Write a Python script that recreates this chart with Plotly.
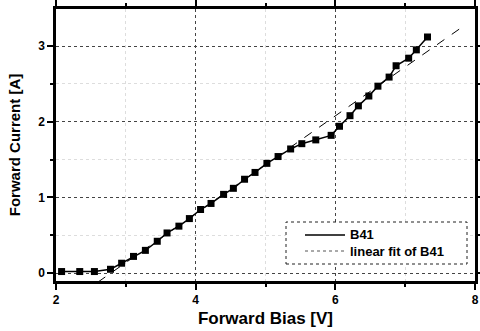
import plotly.graph_objects as go

bias_v = [2.08, 2.34, 2.55, 2.78, 2.94, 3.11, 3.28, 3.45, 3.59, 3.76, 3.91, 4.07, 4.22,
          4.40, 4.54, 4.70, 4.85, 5.02, 5.18, 5.36, 5.52, 5.72, 5.94, 6.06, 6.21, 6.33,
          6.48, 6.61, 6.77, 6.87, 7.05, 7.16, 7.32]
current_a = [0.02, 0.02, 0.02, 0.05, 0.13, 0.22, 0.30, 0.42, 0.53, 0.62, 0.72, 0.84, 0.92,
             1.04, 1.12, 1.24, 1.33, 1.45, 1.54, 1.64, 1.71, 1.76, 1.82, 1.94, 2.08, 2.21,
             2.34, 2.47, 2.59, 2.74, 2.84, 2.95, 3.12]
fit_x = [2.60, 7.83]
fit_y = [-0.12, 3.26]
x_ticks = [2, 4, 6, 8]
y_ticks = [0, 1, 2, 3]
legend_labels = ["B41", "linear fit of B41"]

font_fam = "Liberation Sans, Arial, sans-serif"

ML, MR, MT, MB = 56, 5, 9, 50
W, H = 480, 331
PW, PH = W - ML - MR, H - MT - MB

fig = go.Figure()
fig.add_trace(go.Scatter(x=bias_v, y=current_a, mode="lines+markers", name=legend_labels[0],
                         line=dict(color="black", width=1.5),
                         marker=dict(symbol="square", size=7, color="black"),
                         showlegend=False))
fig.add_trace(go.Scatter(x=fit_x, y=fit_y, mode="lines", name=legend_labels[1],
                         line=dict(color="black", width=1, dash="dash"),
                         showlegend=False))

minor_style = dict(showgrid=True, gridcolor="#dddddd", griddash="dot", gridwidth=1,
                   ticks="outside", ticklen=3, tickcolor="black")

axis_common = dict(
    showline=True, linecolor="black", linewidth=2.5, mirror="ticks",
    ticks="outside", ticklen=6, tickwidth=1.5, tickcolor="black",
    showgrid=True, gridcolor="#444", gridwidth=1, griddash="dot",
    zeroline=False, ticklabeloverflow="allow",
    tickfont=dict(family=font_fam, size=12, color="black"),
)

fig.update_xaxes(range=[2, 8], tickvals=x_ticks, ticktext=[f"<b>{t}</b>" for t in x_ticks],
                 minor=dict(dtick=1, **minor_style),
                 title=dict(text="<b>Forward Bias [V]</b>", font=dict(family=font_fam, size=17, color="black"),
                            standoff=6),
                 **axis_common)
fig.update_yaxes(range=[-0.105, 3.49], tickvals=y_ticks, ticktext=[f"<b>{t}</b>" for t in y_ticks],
                 minor=dict(dtick=0.5, tick0=0, **minor_style),
                 title=dict(text="<b>Forward Current [A]</b>", font=dict(family=font_fam, size=15, color="black"),
                            standoff=14),
                 **axis_common)

# hand-built legend box (paper coordinates)
def px_x(p):
    return (p - ML) / float(PW)

def px_y(p):
    return (H - MB - p) / float(PH)

fig.add_shape(type="rect", xref="paper", yref="paper",
              x0=px_x(286), x1=px_x(467), y0=px_y(264), y1=px_y(222),
              line=dict(color="#222", width=1, dash="dot"), fillcolor="white", layer="above")
fig.add_shape(type="line", xref="paper", yref="paper",
              x0=px_x(305), x1=px_x(345), y0=px_y(235), y1=px_y(235),
              line=dict(color="black", width=1.5), layer="above")
fig.add_shape(type="line", xref="paper", yref="paper",
              x0=px_x(305), x1=px_x(345), y0=px_y(251), y1=px_y(251),
              line=dict(color="#555", width=1, dash="dot"), layer="above")
for lbl, py in zip(legend_labels, [235, 251]):
    fig.add_annotation(xref="paper", yref="paper", x=px_x(348), y=px_y(py),
                       text=f"<b>{lbl}</b>", showarrow=False, xanchor="left", yanchor="middle",
                       font=dict(family=font_fam, size=13, color="black"))

fig.update_layout(
    width=W, height=H,
    margin=dict(l=ML, r=MR, t=MT, b=MB, autoexpand=False),
    paper_bgcolor="white", plot_bgcolor="white",
    font=dict(family=font_fam, color="black"),
    showlegend=False,
)

fig.write_html("out.html")
